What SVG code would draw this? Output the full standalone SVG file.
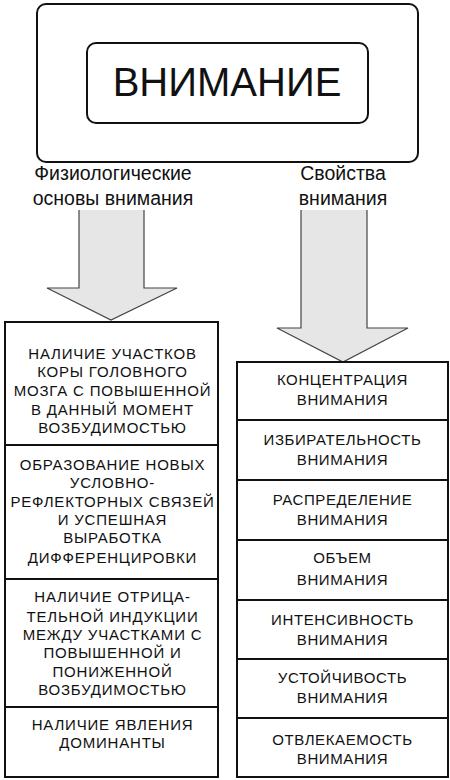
<svg xmlns="http://www.w3.org/2000/svg" width="450" height="780" viewBox="0 0 450 780">
<style>
.box{fill:#fff;stroke:#111;stroke-width:2}
.t{font-family:"Liberation Sans",Arial,sans-serif;fill:#111;text-anchor:middle}
.s{font-size:15px;letter-spacing:0.8px}
.r{font-size:15px;letter-spacing:0.6px}
.h{font-size:19.5px}
.arrow{fill:#e6e6e6;stroke:#444;stroke-width:1.2}
</style>
<rect width="450" height="780" fill="#fff"/>
<g id="outer"><rect class="box" x="37" y="4" width="381" height="158" rx="9"/></g>
<g id="title"><rect class="box" x="87" y="43" width="281" height="80" rx="9" stroke-width="1.5"/>
<text class="t" x="227" y="96" font-size="40">ВНИМАНИЕ</text></g>
<g id="label-left"><text class="t h" x="113" y="180">Физиологические</text><text class="t h" x="113" y="205">основы внимания</text></g>
<g id="label-right"><text class="t h" x="343" y="180">Свойства</text><text class="t h" x="343" y="205">внимания</text></g>
<g id="connectors">
<path class="arrow" d="M79,210 V288 H47 L111,320 L177,288 H144 V210"/>
<path class="arrow" d="M301,210 V328 H277 L343,362 L408,328 H367 V210"/>
</g>
<g id="left1"><rect class="box" x="5" y="322" width="213" height="123"/>
<text class="t s" x="112.5" y="359">НАЛИЧИЕ УЧАСТКОВ</text><text class="t s" x="112.5" y="377">КОРЫ ГОЛОВНОГО</text><text class="t s" x="112.5" y="396">МОЗГА С ПОВЫШЕННОЙ</text><text class="t s" x="112.5" y="415">В ДАННЫЙ МОМЕНТ</text><text class="t s" x="112.5" y="433">ВОЗБУДИМОСТЬЮ</text></g>
<g id="left2"><rect class="box" x="5" y="445" width="213" height="134"/>
<text class="t s" x="112.5" y="470">ОБРАЗОВАНИЕ НОВЫХ</text><text class="t s" x="112.5" y="488">УСЛОВНО-</text><text class="t s" x="112.5" y="507">РЕФЛЕКТОРНЫХ СВЯЗЕЙ</text><text class="t s" x="112.5" y="525">И УСПЕШНАЯ</text><text class="t s" x="112.5" y="543">ВЫРАБОТКА</text><text class="t s" x="112.5" y="563">ДИФФЕРЕНЦИРОВКИ</text></g>
<g id="left3"><rect class="box" x="5" y="579" width="213" height="128"/>
<text class="t s" x="112.5" y="602">НАЛИЧИЕ ОТРИЦА-</text><text class="t s" x="112.5" y="622">ТЕЛЬНОЙ ИНДУКЦИИ</text><text class="t s" x="112.5" y="640">МЕЖДУ УЧАСТКАМИ С</text><text class="t s" x="112.5" y="658">ПОВЫШЕННОЙ И</text><text class="t s" x="112.5" y="677">ПОНИЖЕННОЙ</text><text class="t s" x="112.5" y="695">ВОЗБУДИМОСТЬЮ</text></g>
<g id="left4"><rect class="box" x="5" y="707" width="213" height="70"/>
<text class="t s" x="112.5" y="730">НАЛИЧИЕ ЯВЛЕНИЯ</text><text class="t s" x="112.5" y="748">ДОМИНАНТЫ</text></g>
<g id="right1"><rect class="box" x="237" y="362" width="211" height="58"/><text class="t r" x="342.5" y="385">КОНЦЕНТРАЦИЯ</text><text class="t r" x="342.5" y="405">ВНИМАНИЯ</text></g>
<g id="right2"><rect class="box" x="237" y="420" width="211" height="60"/><text class="t r" x="342.5" y="445">ИЗБИРАТЕЛЬНОСТЬ</text><text class="t r" x="342.5" y="465">ВНИМАНИЯ</text></g>
<g id="right3"><rect class="box" x="237" y="480" width="211" height="60"/><text class="t r" x="342.5" y="505">РАСПРЕДЕЛЕНИЕ</text><text class="t r" x="342.5" y="525">ВНИМАНИЯ</text></g>
<g id="right4"><rect class="box" x="237" y="540" width="211" height="60"/><text class="t r" x="342.5" y="563">ОБЪЕМ</text><text class="t r" x="342.5" y="585">ВНИМАНИЯ</text></g>
<g id="right5"><rect class="box" x="237" y="600" width="211" height="59"/><text class="t r" x="342.5" y="625">ИНТЕНСИВНОСТЬ</text><text class="t r" x="342.5" y="645">ВНИМАНИЯ</text></g>
<g id="right6"><rect class="box" x="237" y="659" width="211" height="59"/><text class="t r" x="342.5" y="683">УСТОЙЧИВОСТЬ</text><text class="t r" x="342.5" y="703">ВНИМАНИЯ</text></g>
<g id="right7"><rect class="box" x="237" y="718" width="211" height="59"/><text class="t r" x="342.5" y="745">ОТВЛЕКАЕМОСТЬ</text><text class="t r" x="342.5" y="764">ВНИМАНИЯ</text></g>
</svg>
